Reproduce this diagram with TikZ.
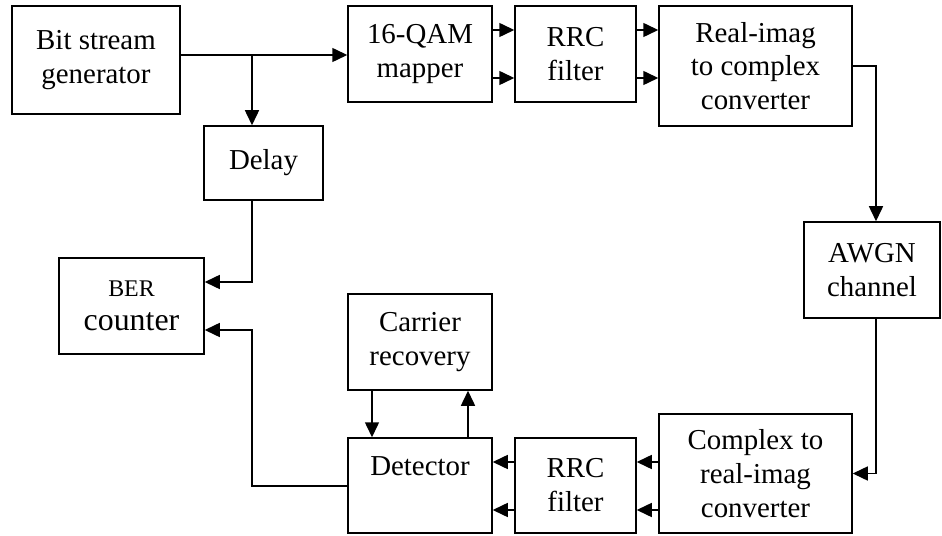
\documentclass[tikz,border=0pt]{standalone}
\usepackage{fontspec}
\setmainfont{Liberation Serif}
\usetikzlibrary{arrows.meta,calc}
\begin{document}
\begin{tikzpicture}[x=1bp,y=-1bp,
  blk/.style={draw,line width=1.5bp,inner sep=0pt,align=center,font=\fontsize{29}{34}\selectfont},
  arr/.style={line width=1.5bp,-{Triangle[length=15bp,width=14bp]}},
  ln/.style={line width=1.5bp}]
\useasboundingbox (0,0) rectangle (942,536);
% blocks
\node[blk,minimum width=168bp,minimum height=108bp] (gen) at (96,60) {Bit stream\\generator};
\node[blk,minimum width=144bp,minimum height=96bp] (map) at (420,54) {16-QAM\\mapper};
\node[blk,minimum width=121bp,minimum height=96bp] (rrc1) at (575.5,54) {RRC\\filter};
\node[blk,minimum width=193bp,minimum height=120bp] (ri) at (755.5,66) {Real-imag\\to complex\\converter};
\node[blk,minimum width=119bp,minimum height=74bp] (delay) at (263.5,163) {Delay};
\node[blk,minimum width=136bp,minimum height=96bp] (awgn) at (872,270) {AWGN\\channel};
\node[blk,minimum width=193bp,minimum height=119bp] (cx) at (755.5,473.5) {Complex to\\real-imag\\converter};
\node[blk,minimum width=121bp,minimum height=95bp] (rrc2) at (575.5,485.5) {RRC\\filter};
\node[blk,minimum width=144bp,minimum height=95bp,text depth=38bp] (det) at (420,485.5) {Detector};
\node[blk,minimum width=144bp,minimum height=96bp] (car) at (420,342) {Carrier\\recovery};
\node[blk,minimum width=145bp,minimum height=96bp] (ber) at (131.5,306) {{\fontsize{24}{34}\selectfont BER}\\{\fontsize{32}{36}\selectfont counter}};
% helper coordinates
\coordinate (j) at (252,55);
\coordinate (ch) at (876,0);
\coordinate (ya) at (0,30);
\coordinate (yb) at (0,78);
\coordinate (yc) at (0,462);
\coordinate (yd) at (0,510);
\coordinate (ye) at (0,282);
\coordinate (yf) at (0,330);
\coordinate (yg) at (0,486);
\coordinate (xa) at (372,0);
\coordinate (xb) at (468,0);
% connectors
\draw[arr] (gen.east |- j) -- (map.west |- j);
\draw[arr] (j) -- (j |- delay.north);
\draw[arr] (map.east |- ya) -- (rrc1.west |- ya);
\draw[arr] (map.east |- yb) -- (rrc1.west |- yb);
\draw[arr] (rrc1.east |- ya) -- (ri.west |- ya);
\draw[arr] (rrc1.east |- yb) -- (ri.west |- yb);
\draw[arr] (ri.east) -| (ch |- awgn.north);
\draw[arr] (ch |- awgn.south) |- (cx.east);
\draw[arr] (cx.west |- yc) -- (rrc2.east |- yc);
\draw[arr] (cx.west |- yd) -- (rrc2.east |- yd);
\draw[arr] (rrc2.west |- yc) -- (det.east |- yc);
\draw[arr] (rrc2.west |- yd) -- (det.east |- yd);
\draw[arr] (xa |- car.south) -- (xa |- det.north);
\draw[arr] (xb |- det.north) -- (xb |- car.south);
\draw[arr] (j |- delay.south) |- (ber.east |- ye);
\draw[arr] (det.west |- yg) -| (j |- yf) -- (ber.east |- yf);
\end{tikzpicture}
\end{document}
